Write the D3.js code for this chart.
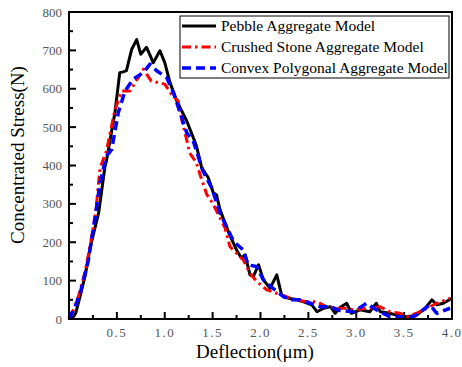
<!DOCTYPE html>
<html>
<head>
<meta charset="utf-8">
<script src="https://cdn.jsdelivr.net/npm/d3@7"></script>
<style>
  body { margin: 0; background: #fff; }
  text { font-family: "Liberation Serif", "DejaVu Serif", serif; }
</style>
</head>
<body>
<div id="chart"></div>
<script>
// series: [deflection (um), stress (N)]
const pebble = [
  [0.03, 0], [0.07, 15], [0.115, 58], [0.17, 115], [0.22, 185], [0.31, 277], [0.376, 398], [0.39, 411],
  [0.48, 538], [0.53, 642], [0.567, 644], [0.6, 647], [0.655, 703], [0.707, 728], [0.749, 690],
  [0.81, 708], [0.88, 668], [0.95, 699], [1.0, 668], [1.055, 616], [1.125, 568], [1.23, 516],
  [1.33, 452], [1.386, 394], [1.455, 368], [1.507, 329], [1.54, 324], [1.577, 285], [1.63, 250],
  [1.68, 218], [1.75, 180], [1.80, 159], [1.84, 167], [1.89, 115], [1.925, 111], [1.98, 141],
  [2.03, 102], [2.1, 80], [2.17, 115], [2.22, 63], [2.29, 54], [2.38, 50], [2.45, 45], [2.535, 37],
  [2.59, 19], [2.66, 28], [2.73, 32], [2.78, 15], [2.83, 30], [2.9, 41], [2.95, 15], [3.04, 24],
  [3.14, 19], [3.21, 41], [3.25, 19], [3.35, 15], [3.42, 10], [3.53, 6], [3.63, 10], [3.72, 28],
  [3.79, 50], [3.84, 37], [3.91, 41], [4.0, 54]
];
const crushed = [
  [0.0, 5], [0.05, 25], [0.1, 60], [0.17, 125], [0.22, 190], [0.28, 280], [0.324, 394], [0.39, 437],
  [0.48, 545], [0.55, 594], [0.637, 594], [0.776, 651], [0.86, 620], [0.93, 616], [1.0, 612],
  [1.07, 586], [1.14, 568], [1.18, 516], [1.23, 466], [1.26, 433], [1.33, 407], [1.386, 363],
  [1.44, 324], [1.5, 302], [1.56, 272], [1.63, 237], [1.68, 189], [1.82, 154], [1.89, 119],
  [1.96, 98], [2.065, 76], [2.17, 67], [2.27, 58], [2.38, 50], [2.48, 45], [2.59, 45], [2.69, 32],
  [2.8, 28], [2.9, 28], [2.97, 24], [3.11, 28], [3.25, 32], [3.35, 19], [3.46, 15], [3.53, 6],
  [3.63, 15], [3.74, 28], [3.84, 41], [3.98, 54]
];
const convex = [
  [0.0, 0], [0.06, 30], [0.12, 70], [0.2, 150], [0.27, 260], [0.324, 355], [0.39, 424], [0.446, 442],
  [0.515, 538], [0.585, 594], [0.67, 625], [0.776, 642], [0.846, 664], [0.916, 647], [1.02, 629],
  [1.09, 590], [1.16, 538], [1.23, 485], [1.3, 462], [1.40, 385], [1.49, 342], [1.577, 276],
  [1.66, 233], [1.72, 202], [1.82, 180], [1.87, 141], [1.96, 137], [2.03, 102], [2.13, 80],
  [2.24, 58], [2.33, 50], [2.41, 50], [2.52, 41], [2.62, 32], [2.73, 32], [2.83, 22], [2.97, 19],
  [3.11, 41], [3.21, 24], [3.35, 6], [3.46, 6], [3.6, 6], [3.70, 24], [3.77, 37], [3.84, 15], [3.98, 28]
];
const seriesNames = ["Pebble Aggregate Model", "Crushed Stone Aggregate Model", "Convex Polygonal Aggregate Model"];
const xTicks = [0.5, 1.0, 1.5, 2.0, 2.5, 3.0, 3.5, 4.0];
const yTicks = [0, 100, 200, 300, 400, 500, 600, 700, 800];

const W = 462, H = 367;
const margin = { left: 69, right: 10, top: 12, bottom: 48 };
const width = W - margin.left - margin.right;
const height = H - margin.top - margin.bottom;
const serif = "'Liberation Serif', 'DejaVu Serif', serif";

const svg = d3.select("#chart").append("svg")
    .attr("width", W).attr("height", H)
    .attr("font-family", serif);
const g = svg.append("g")
    .attr("transform", `translate(${margin.left},${margin.top})`);

const x = d3.scaleLinear().domain([0, 4]).range([0, width]);
const y = d3.scaleLinear().domain([0, 800]).range([height, 0]);

// curves
const line = d3.line().x(d => x(d[0])).y(d => y(d[1]));
const styles = [
  { data: pebble, color: "#000", dash: null, w: 3 },
  { data: crushed, color: "#ff0000", dash: "9,4,2.5,4", w: 3 },
  { data: convex, color: "#0000ff", dash: "9,5", w: 3.5 }
];
styles.forEach(s => {
  g.append("path")
    .datum(s.data)
    .attr("d", line)
    .attr("fill", "none")
    .attr("stroke", s.color)
    .attr("stroke-width", s.w)
    .attr("stroke-linejoin", "round")
    .attr("stroke-dasharray", s.dash);
});

// frame
g.append("rect")
  .attr("width", width).attr("height", height)
  .attr("fill", "none").attr("stroke", "#000").attr("stroke-width", 2);

// x axis, ticks inward
const xAxis = g.append("g").attr("transform", `translate(0,${height})`);
xAxis.selectAll("line.minor")
  .data(d3.range(0.25, 4, 0.5)).enter().append("line")
    .attr("x1", d => x(d)).attr("x2", d => x(d))
    .attr("y1", 0).attr("y2", -4)
    .attr("stroke", "#000").attr("stroke-width", 2);
xAxis.selectAll("line.major")
  .data(xTicks).enter().append("line")
    .attr("x1", d => x(d)).attr("x2", d => x(d))
    .attr("y1", 0).attr("y2", -7)
    .attr("stroke", "#000").attr("stroke-width", 2);
xAxis.selectAll("text")
  .data(xTicks).enter().append("text")
    .attr("x", d => x(d)).attr("y", 18)
    .attr("text-anchor", "middle")
    .attr("font-size", 13).attr("fill", "#555")
    .attr("letter-spacing", 1.5)
    .text(d => d.toFixed(1));

// y axis, ticks inward
const yAxis = g.append("g");
yAxis.selectAll("line.minor")
  .data(d3.range(50, 800, 100)).enter().append("line")
    .attr("y1", d => y(d)).attr("y2", d => y(d))
    .attr("x1", 0).attr("x2", 4)
    .attr("stroke", "#000").attr("stroke-width", 2);
yAxis.selectAll("line.major")
  .data(yTicks).enter().append("line")
    .attr("y1", d => y(d)).attr("y2", d => y(d))
    .attr("x1", 0).attr("x2", 7)
    .attr("stroke", "#000").attr("stroke-width", 2);
yAxis.selectAll("text")
  .data(yTicks).enter().append("text")
    .attr("x", -7).attr("y", d => y(d) + 4.5)
    .attr("text-anchor", "end")
    .attr("font-size", 13).attr("fill", "#555")
    .text(d => d);

// axis labels
svg.append("text")
  .attr("x", 255).attr("y", 358)
  .attr("text-anchor", "middle").attr("font-size", 19)
  .text("Deflection(μm)");
svg.append("text")
  .attr("transform", "translate(24,155) rotate(-90)")
  .attr("text-anchor", "middle").attr("font-size", 19)
  .text("Concentrated Stress(N)");

// legend
const lg = svg.append("g").attr("transform", "translate(180,16)");
lg.append("rect")
  .attr("width", 269).attr("height", 62)
  .attr("fill", "#fff").attr("stroke", "#000").attr("stroke-width", 1);
seriesNames.forEach((name, i) => {
  const yy = 10 + i * 21;
  lg.append("line")
    .attr("x1", 2).attr("x2", 36).attr("y1", yy).attr("y2", yy)
    .attr("stroke", styles[i].color).attr("stroke-width", styles[i].w)
    .attr("stroke-dasharray", styles[i].dash);
  lg.append("text")
    .attr("x", 41).attr("y", yy + 5)
    .attr("font-size", 15.5)
    .text(name);
});
</script>
</body>
</html>
